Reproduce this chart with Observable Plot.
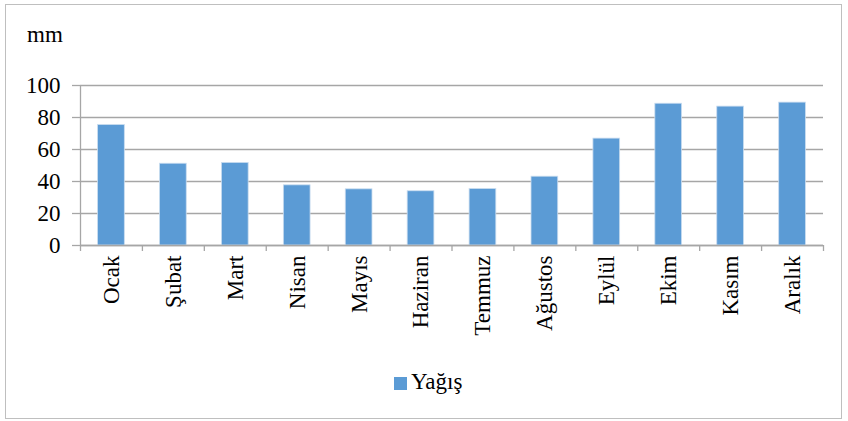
<!DOCTYPE html>
<html>
<head>
<meta charset="utf-8">
<script src="https://cdn.jsdelivr.net/npm/d3@7"></script>
<script src="https://cdn.jsdelivr.net/npm/@observablehq/plot@0.6"></script>
<style>
  html, body { margin: 0; padding: 0; background: #fff; }
  #wrap { position: relative; width: 848px; height: 421px; overflow: hidden; font-family: "Liberation Serif", "Times New Roman", serif; }
  #frame { position: absolute; left: 5px; top: 4px; width: 835px; height: 413px; border: 1.5px solid #bfbfbf; }
  #unit { position: absolute; left: 27px; top: 23px; font-size: 23px; line-height: 23px; color: #000; }
  #legend { position: absolute; left: 394px; top: 370px; font-size: 23px; line-height: 23px; color: #000; display: flex; align-items: center; }
  #legend .sw { width: 13px; height: 13px; background: #5b9bd5; margin-right: 4px; margin-top: 3px; }
  #chart { position: absolute; left: 0; top: 0; }
</style>
</head>
<body>
<div id="wrap">
  <div id="frame"></div>
  <div id="unit">mm</div>
  <div id="chart"></div>
  <div id="legend"><span class="sw"></span><span>Yağış</span></div>
</div>
<script>
const months = ["Ocak", "Şubat", "Mart", "Nisan", "Mayıs", "Haziran", "Temmuz", "Ağustos", "Eylül", "Ekim", "Kasım", "Aralık"];
const rainfall = [75.3, 51.1, 51.6, 37.6, 35.1, 33.9, 35.3, 43.0, 66.8, 88.6, 86.8, 89.3];
const yTicks = [0, 20, 40, 60, 80, 100];
const seriesName = "Yağış";

const data = months.map((m, i) => ({month: m, i, value: rainfall[i]}));

const chart = Plot.plot({
  width: 848,
  height: 421,
  marginLeft: 80,
  marginRight: 25,
  marginTop: 85,
  marginBottom: 176,
  style: {fontFamily: "Liberation Serif, Times New Roman, serif", fontSize: "23px", color: "#000", background: "transparent"},
  x: {domain: [0, months.length], axis: null, label: null},
  y: {domain: [0, 100], axis: null, label: null},
  marks: [
    Plot.gridY(yTicks, {stroke: "#a6a6a6", strokeOpacity: 1, strokeWidth: 1.3}),
    Plot.axisY(yTicks, {label: null, tickSize: 8, tickPadding: 12, stroke: "#a6a6a6", strokeWidth: 1.3, fontSize: 23, fill: "#000", tickFormat: d => String(d)}),
    Plot.ruleX([0], {stroke: "#a6a6a6", strokeWidth: 1.3}),
    Plot.axisX(d3.range(months.length + 1), {label: null, tickSize: 6, stroke: "#a6a6a6", strokeWidth: 1.3, tickFormat: () => ""}),
    Plot.axisX(months.map((m, i) => i + 0.5), {label: null, tickSize: 0, tickPadding: 10, tickRotate: -90, fontSize: 23, fill: "#000", tickFormat: d => months[Math.floor(d)]}),
    Plot.rectY(data, {x1: "i", x2: d => d.i + 1, y1: 0, y2: "value", fill: "#5b9bd5", stroke: "#c9dcef", strokeWidth: 0.8, insetLeft: 17.6, insetRight: 17.6}),
    Plot.ruleY([0], {stroke: "#a6a6a6", strokeWidth: 1.3})
  ]
});
document.getElementById("chart").appendChild(chart);
</script>
</body>
</html>
